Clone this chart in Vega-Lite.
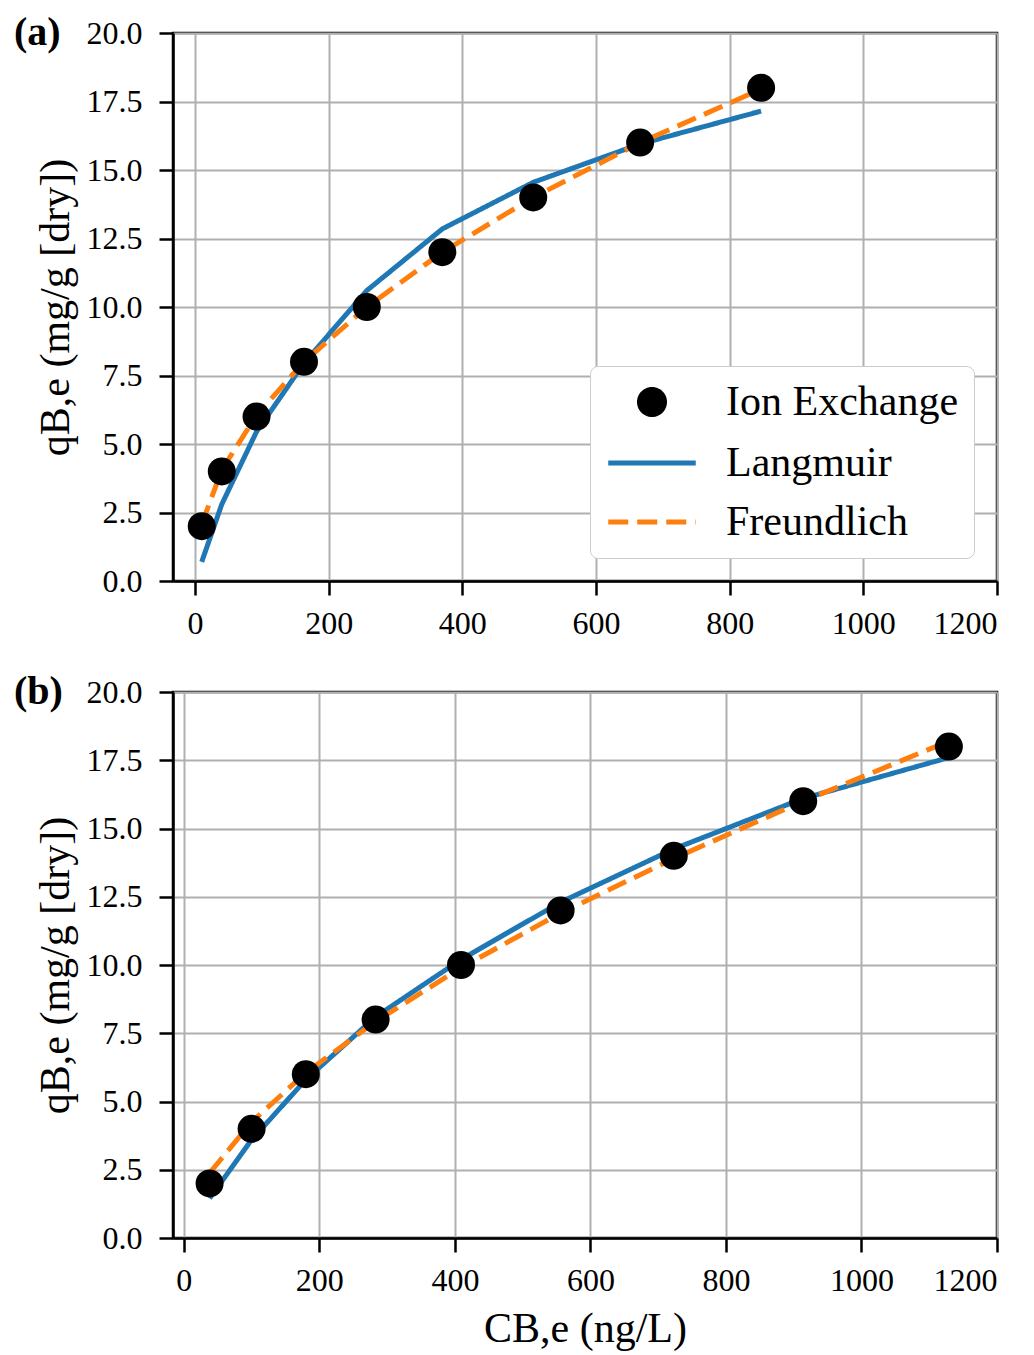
{
  "$schema": "https://vega.github.io/schema/vega-lite/v6.json",
  "padding": {"left": 12, "top": 11, "right": 5, "bottom": 5},
  "background": "white",
  "config": {
    "font": "Liberation Serif",
    "view": {"stroke": "black", "strokeWidth": 2.5},
    "axis": {
      "labelFont": "Liberation Serif",
      "labelFontSize": 32,
      "labelColor": "black",
      "titleFont": "Liberation Serif",
      "titleFontSize": 42,
      "titleFontWeight": "normal",
      "titleColor": "black",
      "domainColor": "black",
      "domainWidth": 2.5,
      "tickColor": "black",
      "tickWidth": 2.5,
      "tickSize": 14,
      "gridColor": "#b0b0b0",
      "gridWidth": 2,
      "gridOpacity": 1
    },
    "axisY": {"labelPadding": 17, "titlePadding": 9},
    "axisX": {"labelPadding": 13, "titlePadding": 12},
    "legend": {"orient": "bottom-right"}
  },
  "datasets": {
    "a": [
      {"C": 10, "q": 2.0, "series": "Ion Exchange"},
      {"C": 40, "q": 4.0, "series": "Ion Exchange"},
      {"C": 92, "q": 6.0, "series": "Ion Exchange"},
      {"C": 163, "q": 8.0, "series": "Ion Exchange"},
      {"C": 257, "q": 10.0, "series": "Ion Exchange"},
      {"C": 370, "q": 12.0, "series": "Ion Exchange"},
      {"C": 506, "q": 14.0, "series": "Ion Exchange"},
      {"C": 666, "q": 16.0, "series": "Ion Exchange"},
      {"C": 847, "q": 18.0, "series": "Ion Exchange"},
      {"C": 10, "q": 0.7, "series": "Langmuir"},
      {"C": 40, "q": 2.8, "series": "Langmuir"},
      {"C": 92, "q": 5.45, "series": "Langmuir"},
      {"C": 163, "q": 7.95, "series": "Langmuir"},
      {"C": 257, "q": 10.6, "series": "Langmuir"},
      {"C": 370, "q": 12.85, "series": "Langmuir"},
      {"C": 506, "q": 14.55, "series": "Langmuir"},
      {"C": 666, "q": 15.95, "series": "Langmuir"},
      {"C": 847, "q": 17.15, "series": "Langmuir"},
      {"C": 10, "q": 2.07, "series": "Freundlich"},
      {"C": 40, "q": 4.06, "series": "Freundlich"},
      {"C": 92, "q": 6.05, "series": "Freundlich"},
      {"C": 163, "q": 8.0, "series": "Freundlich"},
      {"C": 257, "q": 10.0, "series": "Freundlich"},
      {"C": 370, "q": 12.0, "series": "Freundlich"},
      {"C": 506, "q": 14.0, "series": "Freundlich"},
      {"C": 666, "q": 16.0, "series": "Freundlich"},
      {"C": 847, "q": 17.95, "series": "Freundlich"}
    ],
    "b": [
      {"C": 38, "q": 2.0, "series": "Ion Exchange"},
      {"C": 100, "q": 4.0, "series": "Ion Exchange"},
      {"C": 180, "q": 6.0, "series": "Ion Exchange"},
      {"C": 283, "q": 8.0, "series": "Ion Exchange"},
      {"C": 409, "q": 10.0, "series": "Ion Exchange"},
      {"C": 556, "q": 12.0, "series": "Ion Exchange"},
      {"C": 723, "q": 14.0, "series": "Ion Exchange"},
      {"C": 914, "q": 16.0, "series": "Ion Exchange"},
      {"C": 1129, "q": 18.0, "series": "Ion Exchange"},
      {"C": 38, "q": 1.45, "series": "Langmuir"},
      {"C": 100, "q": 3.6, "series": "Langmuir"},
      {"C": 180, "q": 5.8, "series": "Langmuir"},
      {"C": 283, "q": 8.1, "series": "Langmuir"},
      {"C": 409, "q": 10.2, "series": "Langmuir"},
      {"C": 556, "q": 12.3, "series": "Langmuir"},
      {"C": 723, "q": 14.25, "series": "Langmuir"},
      {"C": 914, "q": 16.1, "series": "Langmuir"},
      {"C": 1129, "q": 17.6, "series": "Langmuir"},
      {"C": 38, "q": 2.38, "series": "Freundlich"},
      {"C": 100, "q": 4.25, "series": "Freundlich"},
      {"C": 180, "q": 6.05, "series": "Freundlich"},
      {"C": 283, "q": 7.93, "series": "Freundlich"},
      {"C": 409, "q": 9.9, "series": "Freundlich"},
      {"C": 556, "q": 11.9, "series": "Freundlich"},
      {"C": 723, "q": 13.9, "series": "Freundlich"},
      {"C": 914, "q": 16.0, "series": "Freundlich"},
      {"C": 1129, "q": 18.2, "series": "Freundlich"}
    ]
  },
  "resolve": {
    "scale": {"color": "independent", "shape": "independent", "strokeDash": "independent"},
    "legend": {"color": "independent", "shape": "independent", "strokeDash": "independent"}
  },
  "spacing": 29,
  "vconcat": [
    {
      "width": 824,
      "height": 548,
      "title": {"text": "(a)", "anchor": "start", "frame": "bounds", "fontSize": 40, "fontWeight": "bold", "font": "Liberation Serif", "color": "black", "offset": 0, "dy": 36, "dx": -20},
      "data": {"name": "a"},
      "layer": [
        {
          "transform": [{"filter": "datum.series !== 'Ion Exchange'"}],
          "mark": {"type": "line", "strokeWidth": 5},
          "encoding": {
            "x": {"field": "C", "type": "quantitative", "scale": {"domain": [-33, 1200], "nice": false, "zero": false},
                  "axis": {"values": [0, 200, 400, 600, 800, 1000, 1200], "format": "d", "title": null}},
            "y": {"field": "q", "type": "quantitative", "scale": {"domain": [0, 20], "nice": false},
                  "axis": {"values": [0, 2.5, 5, 7.5, 10, 12.5, 15, 17.5, 20], "format": ".1f", "title": "qB,e (mg/g [dry])"}},
            "color": {"field": "series", "type": "nominal",
                      "scale": {"domain": ["Ion Exchange", "Langmuir", "Freundlich"], "range": ["black", "#1f77b4", "#ff7f0e"]},
                      "legend": {"title": null, "orient": "bottom-right", "offset": 23,
                                 "labelFont": "Liberation Serif", "labelFontSize": 42, "labelColor": "black", "labelLimit": 500,
                                 "symbolSize": 625, "symbolStrokeWidth": 5, "symbolOffset": 26, "labelOffset": 53,
                                 "rowPadding": 17, "padding": 15, "fillColor": "white", "strokeColor": "#cccccc",
                                 "cornerRadius": 8, "symbolOpacity": 1}},
            "strokeDash": {"field": "series", "type": "nominal",
                           "scale": {"domain": ["Ion Exchange", "Langmuir", "Freundlich"], "range": [[1, 0], [1, 0], [20, 9]]}}
          }
        },
        {
          "transform": [{"filter": "datum.series === 'Ion Exchange'"}],
          "mark": {"type": "point", "filled": true, "size": 784, "opacity": 1},
          "encoding": {
            "x": {"field": "C", "type": "quantitative"},
            "y": {"field": "q", "type": "quantitative"},
            "color": {"field": "series", "type": "nominal",
                      "scale": {"domain": ["Ion Exchange", "Langmuir", "Freundlich"], "range": ["black", "#1f77b4", "#ff7f0e"]},
                      "legend": {"title": null, "orient": "bottom-right", "offset": 23,
                                 "labelFont": "Liberation Serif", "labelFontSize": 42, "labelColor": "black", "labelLimit": 500,
                                 "symbolSize": 625, "symbolStrokeWidth": 5, "symbolOffset": 26, "labelOffset": 53,
                                 "rowPadding": 17, "padding": 15, "fillColor": "white", "strokeColor": "#cccccc",
                                 "cornerRadius": 8, "symbolOpacity": 1}},
            "shape": {"field": "series", "type": "nominal",
                      "scale": {"domain": ["Ion Exchange", "Langmuir", "Freundlich"], "range": ["circle", "M-3.5,0H3.5", "M-3.5,0H3.5"]}}
          }
        }
      ]
    },
    {
      "width": 824,
      "height": 546,
      "title": {"text": "(b)", "anchor": "start", "frame": "bounds", "fontSize": 40, "fontWeight": "bold", "font": "Liberation Serif", "color": "black", "offset": 0, "dy": 36, "dx": -20},
      "data": {"name": "b"},
      "layer": [
        {
          "transform": [{"filter": "datum.series !== 'Ion Exchange'"}],
          "mark": {"type": "line", "strokeWidth": 5},
          "encoding": {
            "x": {"field": "C", "type": "quantitative", "scale": {"domain": [-16, 1200], "nice": false, "zero": false},
                  "axis": {"values": [0, 200, 400, 600, 800, 1000, 1200], "format": "d", "title": "CB,e (ng/L)"}},
            "y": {"field": "q", "type": "quantitative", "scale": {"domain": [0, 20], "nice": false},
                  "axis": {"values": [0, 2.5, 5, 7.5, 10, 12.5, 15, 17.5, 20], "format": ".1f", "title": "qB,e (mg/g [dry])"}},
            "color": {"field": "series", "type": "nominal",
                      "scale": {"domain": ["Ion Exchange", "Langmuir", "Freundlich"], "range": ["black", "#1f77b4", "#ff7f0e"]},
                      "legend": null},
            "strokeDash": {"field": "series", "type": "nominal",
                           "scale": {"domain": ["Ion Exchange", "Langmuir", "Freundlich"], "range": [[1, 0], [1, 0], [20, 9]]},
                           "legend": null}
          }
        },
        {
          "transform": [{"filter": "datum.series === 'Ion Exchange'"}],
          "mark": {"type": "point", "filled": true, "size": 784, "opacity": 1},
          "encoding": {
            "x": {"field": "C", "type": "quantitative"},
            "y": {"field": "q", "type": "quantitative"},
            "color": {"field": "series", "type": "nominal",
                      "scale": {"domain": ["Ion Exchange", "Langmuir", "Freundlich"], "range": ["black", "#1f77b4", "#ff7f0e"]},
                      "legend": null}
          }
        }
      ]
    }
  ]
}
